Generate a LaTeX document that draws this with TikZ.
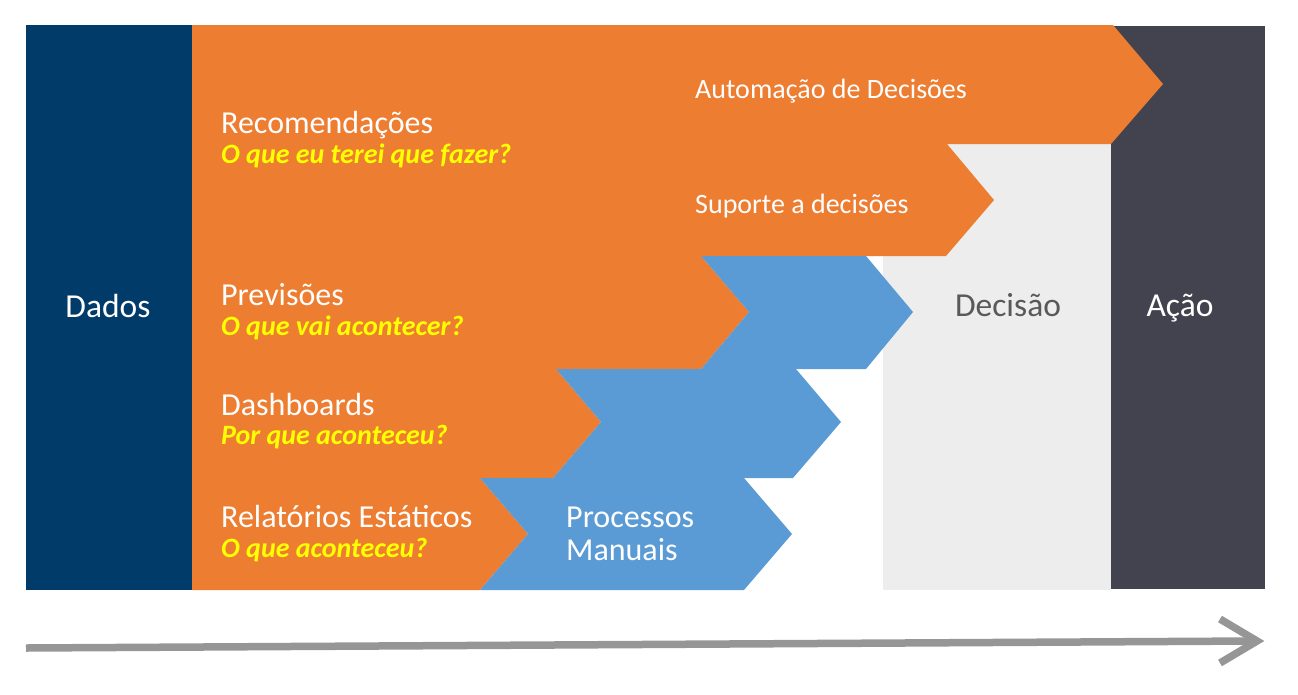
\documentclass[tikz,border=0pt]{standalone}
\usepackage{fontspec}
\setmainfont{Carlito}
\definecolor{navy}{RGB}{1,59,106}
\definecolor{orng}{RGB}{237,125,49}
\definecolor{blu}{RGB}{91,155,213}
\definecolor{lgray}{RGB}{237,237,237}
\definecolor{dgray}{RGB}{67,67,79}
\definecolor{agray}{RGB}{150,150,150}
\definecolor{ylw}{RGB}{255,255,0}
\definecolor{tgray}{RGB}{89,89,89}
\tikzset{
  bigtxt/.style={font=\fontsize{33.5}{38}\selectfont, inner sep=0pt, anchor=base},
  maintxt/.style={font=\fontsize{32}{36}\selectfont, text=white, inner sep=0pt, anchor=base west},
  midtxt/.style={font=\fontsize{28}{32}\selectfont, text=white, inner sep=0pt, anchor=base west},
  subtxt/.style={font=\fontsize{28}{32}\selectfont\bfseries\itshape, text=ylw, inner sep=0pt, anchor=base west},
  timeline/.style={draw=agray, line width=7.5pt},
}
\begin{document}
\begin{tikzpicture}[x=1pt,y=-1pt]
\useasboundingbox (0,0) rectangle (1298,694);
% background blocks
\fill[lgray] (883,144) rectangle (1111,590);
\fill[dgray] (1111,26) rectangle (1265,589);
\fill[navy] (26,25) rectangle (192,590);
% orange staircase
\fill[orng] (192,25) -- (1113,25) -- (1163,84) -- (1111,144) -- (947,144) -- (994,200)
  -- (946,256) -- (701,256) -- (749,312) -- (701,369) -- (556,369) -- (601,422)
  -- (553,478) -- (480,478) -- (528,534) -- (480,590) -- (192,590) -- cycle;
% blue chevrons
\fill[blu] (701,256) -- (866,256) -- (913,312) -- (866,369) -- (701,369) -- (749,312) -- cycle;
\fill[blu] (556,369) -- (796,369) -- (841,422) -- (793,478) -- (553,478) -- (601,422) -- cycle;
\fill[blu] (480,478) -- (744,478) -- (792,534) -- (744,590) -- (480,590) -- (528,534) -- cycle;
% texts
\node[bigtxt, text=white] (dados) at (108,317) {Dados};
\node[bigtxt, text=tgray] (decisao) at (1008,316) {Decisão};
\node[bigtxt, text=white] (acao) at (1180,316) {Ação};
\node[maintxt] (rec) at (221,133) {Recomendações};
\node[subtxt] (recq) at (221,163) {O que eu terei que fazer?};
\node[midtxt] (auto) at (695,98) {Automação de Decisões};
\node[midtxt] (sup) at (695,213) {Suporte a decisões};
\node[maintxt] (prev) at (221,305) {Previsões};
\node[subtxt] (prevq) at (221,335) {O que vai acontecer?};
\node[maintxt] (dash) at (221,415) {Dashboards};
\node[subtxt] (dashq) at (221,444) {Por que aconteceu?};
\node[maintxt] (rel) at (221,527) {Relatórios Estáticos};
\node[subtxt] (relq) at (221,557) {O que aconteceu?};
\node[maintxt] (proc) at (566,527) {Processos};
\node[maintxt] (man) at (566,560) {Manuais};
% timeline arrow
\coordinate (tl) at (26,648);
\coordinate (tr) at (1254,641);
\coordinate (tip) at (1257,641);
\coordinate (armu) at (1220,619);
\coordinate (armd) at (1220,663);
\draw[timeline] (tl) -- (tr);
\draw[timeline, line join=miter] (armu) -- (tip) -- (armd);
\end{tikzpicture}
\end{document}
